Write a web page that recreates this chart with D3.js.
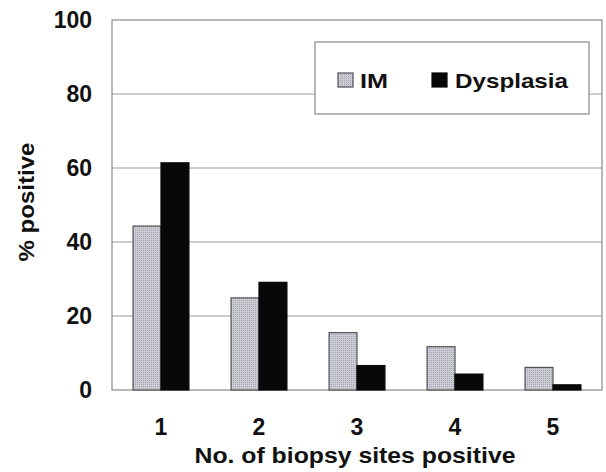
<!DOCTYPE html>
<html><head><meta charset="utf-8">
<script src="https://cdn.jsdelivr.net/npm/d3@7"></script>
<style>
html,body{margin:0;padding:0;background:#fff;}
text{font-family:Arial,"Liberation Sans",sans-serif;font-weight:bold;fill:#111;}
</style></head>
<body>
<svg id="chart" width="606" height="472"></svg>
<script>
const categories = ["1","2","3","4","5"];
const seriesNames = ["IM","Dysplasia"];
const imValues = [44.3, 24.9, 15.5, 11.7, 6.1];
const dysplasiaValues = [61.4, 29.1, 6.6, 4.3, 1.4];
const yTicks = [0, 20, 40, 60, 80, 100];
const xTitle = "No. of biopsy sites positive";
const yTitle = "% positive";

const svg = d3.select("#chart");
svg.append("rect").attr("width",606).attr("height",472).attr("fill","#fff");

const plot = {left:112, right:602, top:20, bottom:390};

const defs = svg.append("defs");
const pat = defs.append("pattern").attr("id","dots").attr("patternUnits","userSpaceOnUse")
  .attr("width",2).attr("height",2);
pat.append("rect").attr("width",2).attr("height",2).attr("fill","#cdcdd5");
pat.append("rect").attr("width",1).attr("height",1).attr("fill","#a4a4ae");

const x = d3.scaleBand().domain(categories).range([plot.left, plot.right])
  .paddingInner(0.43).paddingOuter(0.215);
const xs = d3.scaleBand().domain(seriesNames).range([0, x.bandwidth()]);
const y = d3.scaleLinear().domain([0,100]).range([plot.bottom, plot.top]);

// gridlines
svg.append("g").selectAll("line").data(yTicks.filter(t=>t>0 && t<100)).join("line")
  .attr("x1",plot.left).attr("x2",plot.right)
  .attr("y1",d=>y(d)).attr("y2",d=>y(d))
  .attr("stroke","#9a9a9a").attr("stroke-width",1.2);

// frame
svg.append("rect").attr("x",plot.left).attr("y",plot.top)
  .attr("width",plot.right-plot.left).attr("height",plot.bottom-plot.top)
  .attr("fill","none").attr("stroke","#8a8a8a").attr("stroke-width",1.2);

const data = categories.map((c,i)=>({cat:c, vals:[
  {s:"IM", v:imValues[i]}, {s:"Dysplasia", v:dysplasiaValues[i]}]}));

const g = svg.append("g").selectAll("g").data(data).join("g")
  .attr("transform",d=>`translate(${x(d.cat)},0)`);
g.selectAll("rect").data(d=>d.vals).join("rect")
  .attr("x",d=>xs(d.s)).attr("width",xs.bandwidth())
  .attr("y",d=>y(d.v)).attr("height",d=>y(0)-y(d.v))
  .attr("fill",d=>d.s==="IM"?"url(#dots)":"#080808")
  .attr("stroke",d=>d.s==="IM"?"#505058":"#080808")
  .attr("stroke-width",1.2);

// y tick labels
svg.append("g").selectAll("text").data(yTicks).join("text")
  .attr("x",92).attr("y",d=>y(d)).attr("dy","0.36em")
  .attr("text-anchor","end").attr("font-size",23)
  .text(d=>d);

// x tick labels
svg.append("g").selectAll("text").data(categories).join("text")
  .attr("x",d=>x(d)+x.bandwidth()/2).attr("y",435)
  .attr("text-anchor","middle").attr("font-size",23)
  .text(d=>d);

// axis titles
svg.append("text").attr("x",355).attr("y",463).attr("text-anchor","middle")
  .attr("font-size",22).attr("textLength",321).attr("lengthAdjust","spacingAndGlyphs")
  .text(xTitle);
svg.append("text").attr("transform","translate(34,202) rotate(-90)")
  .attr("text-anchor","middle").attr("font-size",22)
  .attr("textLength",119).attr("lengthAdjust","spacingAndGlyphs")
  .text(yTitle);

// legend
const lg = svg.append("g");
lg.append("rect").attr("x",315).attr("y",42).attr("width",274).attr("height",72)
  .attr("fill","#fff").attr("stroke","#8a8a8a").attr("stroke-width",1.2);
const legendItems = [
  {s:"IM", sx:338, tx:360, tl:28},
  {s:"Dysplasia", sx:432, tx:455, tl:113}
];
legendItems.forEach(it=>{
  lg.append("rect").attr("x",it.sx).attr("y",73).attr("width",15).attr("height",14)
    .attr("fill",it.s==="IM"?"url(#dots)":"#080808")
    .attr("stroke",it.s==="IM"?"#505058":"#080808").attr("stroke-width",1.2);
  lg.append("text").attr("x",it.tx).attr("y",87.5).attr("font-size",21)
    .attr("textLength",it.tl).attr("lengthAdjust","spacingAndGlyphs")
    .text(it.s);
});
</script>
</body></html>
